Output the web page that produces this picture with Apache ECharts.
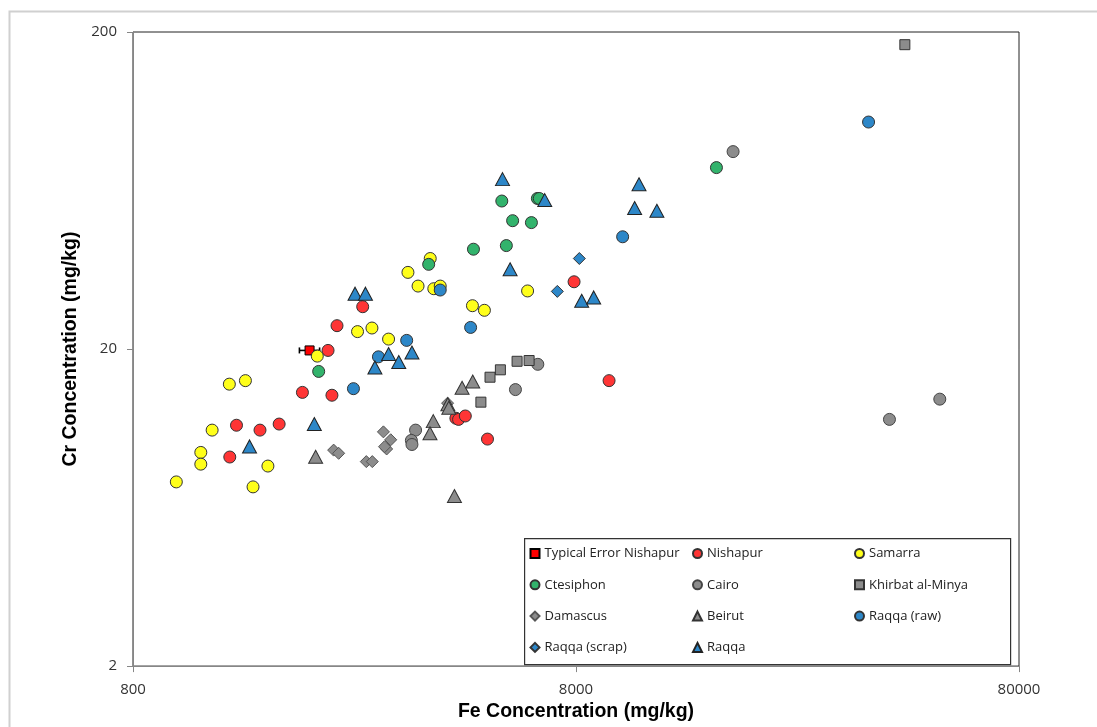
<!DOCTYPE html>
<html>
<head>
<meta charset="utf-8">
<script src="https://cdn.jsdelivr.net/npm/echarts@6/dist/echarts.min.js"></script>
<style>
html,body{margin:0;padding:0;background:#fff;}
#chart{width:1097px;height:727px;}
</style>
</head>
<body>
<div id="chart"></div>
<script>
// ---- Data (Fe mg/kg, Cr mg/kg) ----
const xTicks = [800, 8000, 80000];
const yTicks = [2, 20, 200];

const typicalError = [[2003, 19.8, 1900, 2110]]; // Fe, Cr, Fe low, Fe high
const nishapur = [[2640,27.2],[2310,23.7],[2205,19.8],[1930,14.6],[2250,14.3],[1370,11.5],[1548,11.1],[1710,11.6],[1323,9.13],[7920,32.6],[9500,15.9],[4285,12.1],[4345,12.0],[4500,12.3],[5050,10.4]];
const samarra = [[3750,38.6],[3340,34.9],[3520,31.6],[3820,31.0],[3950,31.6],[6220,30.5],[4670,27.4],[4970,26.5],[2570,22.7],[2770,23.3],[3020,21.5],[2085,19.0],[1320,15.5],[1435,15.9],[1207,11.1],[1138,9.44],[1138,8.67],[1613,8.55],[1002,7.62],[1493,7.35]];
const ctesiphon = [[3720,37.0],[2100,17.0],[5440,58.6],[6545,59.7],[6610,59.7],[5755,50.8],[6345,50.1],[4695,41.3],[5570,42.4],[16600,74.7]];
const cairo = [[3475,11.1],[3400,10.3],[3410,10.0],[5840,14.9],[6560,17.9],[18100,83.9],[53000,13.9],[40800,12.0]];
const khirbat = [[5890,18.3],[6270,18.4],[5400,17.2],[5117,16.3],[4880,13.6],[44200,182.4]];
const damascus = [[2270,9.6],[2330,9.38],[2690,8.83],[2775,8.83],[2940,10.96],[3054,10.35],[2990,9.68],[2957,9.84],[4104,13.5]];
const beirut = [[2067,9.15],[3810,11.85],[3745,10.85],[4110,13.4],[4130,13.05],[4425,15.1],[4677,15.8],[4253,6.88]];
const raqqaRaw = [[3950,30.7],[3318,21.3],[2865,18.9],[2516,15.0],[4626,23.4],[10195,45.2],[36600,104]];
const raqqaScrap = [[8140,38.6],[7260,30.4]];
const raqqa = [[5460,68.7],[6800,59.0],[11100,66.2],[10850,55.7],[12180,54.6],[5680,35.7],[8240,28.4],[8770,29.1],[2537,29.9],[2678,29.9],[3020,19.3],[2813,17.5],[3184,18.2],[3410,19.5],[2053,11.6],[1466,9.86]];

// ---- Styles ----
const RED = '#ff3535', YEL = '#ffff1a', GRN = '#32b36c', GRY = '#8c8c8c', BLU = '#2d87c8';
const groups = [
  {name:'Typical Error Nishapur', data: typicalError.map(d => [d[0], d[1]]), symbol:'rect', size:9, color:'#ff0000', border:'#000'},
  {name:'Nishapur', data: nishapur, symbol:'circle', size:12, color:RED, border:'#333'},
  {name:'Samarra', data: samarra, symbol:'circle', size:12, color:YEL, border:'#333'},
  {name:'Ctesiphon', data: ctesiphon, symbol:'circle', size:12, color:GRN, border:'#333'},
  {name:'Cairo', data: cairo, symbol:'circle', size:12, color:GRY, border:'#444'},
  {name:'Khirbat al-Minya', data: khirbat, symbol:'rect', size:10, color:GRY, border:'#333'},
  {name:'Damascus', data: damascus, symbol:'diamond', size:[12,12], color:GRY, border:'#555'},
  {name:'Beirut', data: beirut, symbol:'triangle', size:[14,13], color:GRY, border:'#333'},
  {name:'Raqqa (raw)', data: raqqaRaw, symbol:'circle', size:12, color:BLU, border:'#333'},
  {name:'Raqqa (scrap)', data: raqqaScrap, symbol:'diamond', size:[12,12], color:BLU, border:'#333'},
  {name:'Raqqa', data: raqqa, symbol:'triangle', size:[14,13], color:BLU, border:'#222'}
];

const series = [{
  type:'custom',
  name:'errbar',
  data: typicalError,
  encode:{x:[0,2,3], y:1},
  z:1,
  silent:true,
  renderItem:function(params, api){
    const y = api.value(1);
    const p1 = api.coord([api.value(2), y]);
    const p2 = api.coord([api.value(3), y]);
    const st = {stroke:'#000', lineWidth:1.6};
    return {type:'group', children:[
      {type:'line', shape:{x1:p1[0], y1:p1[1], x2:p2[0], y2:p2[1]}, style:st},
      {type:'line', shape:{x1:p1[0], y1:p1[1]-3, x2:p1[0], y2:p1[1]+3}, style:st},
      {type:'line', shape:{x1:p2[0], y1:p2[1]-3, x2:p2[0], y2:p2[1]+3}, style:st}
    ]};
  }
}];
groups.forEach(function(g, i){
  series.push({
    type:'scatter', name:g.name, data:g.data, symbol:g.symbol, symbolSize:g.size,
    z: 2 + i * 0.01,
    itemStyle:{color:g.color, borderColor:g.border, borderWidth:1, opacity:1},
    emphasis:{disabled:true}
  });
});

const legendText = {fontFamily:'Open Sans', fontSize:13, color:'#222', lineHeight:13};
function mkLegend(names, left){
  return {data:names, orient:'vertical', left:left, top:547, padding:0, itemGap:18.3,
    itemWidth:9, itemHeight:9, itemTextGap:5, textStyle:legendText, z:5, selectedMode:false};
}

const titleStyle = {fontFamily:"'Liberation Sans', Arial", fontWeight:'bold', fontSize:19.5, color:'#000'};
const chart = echarts.init(document.getElementById('chart'), null, {renderer:'canvas'});
chart.setOption({
  backgroundColor:'#fff',
  animation:false,
  graphic:[
    {type:'rect', left:7, top:9, z:-1, shape:{width:1100, height:730}, style:{fill:'none', stroke:'#d0d0d0', lineWidth:2}},
    {type:'rect', left:524, top:538, z:3, shape:{width:486, height:126}, style:{fill:'#fff', stroke:'#333', lineWidth:1.2}}
  ],
  legend:[
    mkLegend(['Typical Error Nishapur','Ctesiphon','Damascus','Raqqa (scrap)'], 529.5),
    mkLegend(['Nishapur','Cairo','Beirut','Raqqa'], 692),
    mkLegend(['Samarra','Khirbat al-Minya','Raqqa (raw)'], 854)
  ],
  grid:{left:133, top:32, width:886, height:637, show:true, borderColor:'#222', borderWidth:1, backgroundColor:'#fff'},
  xAxis:{
    type:'log', logBase:10, min:xTicks[0], max:xTicks[2],
    name:'Fe Concentration (mg/kg)', nameLocation:'middle', nameGap:33,
    nameTextStyle:titleStyle,
    axisLine:{show:true, lineStyle:{color:'#868686', width:1}},
    axisTick:{show:true, inside:false, length:6, customValues:xTicks, lineStyle:{color:'#868686'}},
    axisLabel:{customValues:xTicks, margin:16, fontFamily:'Open Sans', fontSize:15, color:'#333', formatter:function(v){return String(Math.round(v));}},
    splitLine:{show:false}, minorTick:{show:false}
  },
  yAxis:{
    type:'log', logBase:10, min:yTicks[0], max:yTicks[2],
    name:'Cr Concentration (mg/kg)', nameLocation:'middle', nameGap:51, nameRotate:90,
    nameTextStyle:titleStyle,
    axisLine:{show:true, lineStyle:{color:'#868686', width:1}},
    axisTick:{show:true, inside:false, length:6, customValues:yTicks, lineStyle:{color:'#868686'}},
    axisLabel:{customValues:yTicks, margin:16, fontFamily:'Open Sans', fontSize:15, color:'#333', formatter:function(v){return String(Math.round(v));}},
    splitLine:{show:false}, minorTick:{show:false}
  },
  series:series
});
</script>
</body>
</html>
